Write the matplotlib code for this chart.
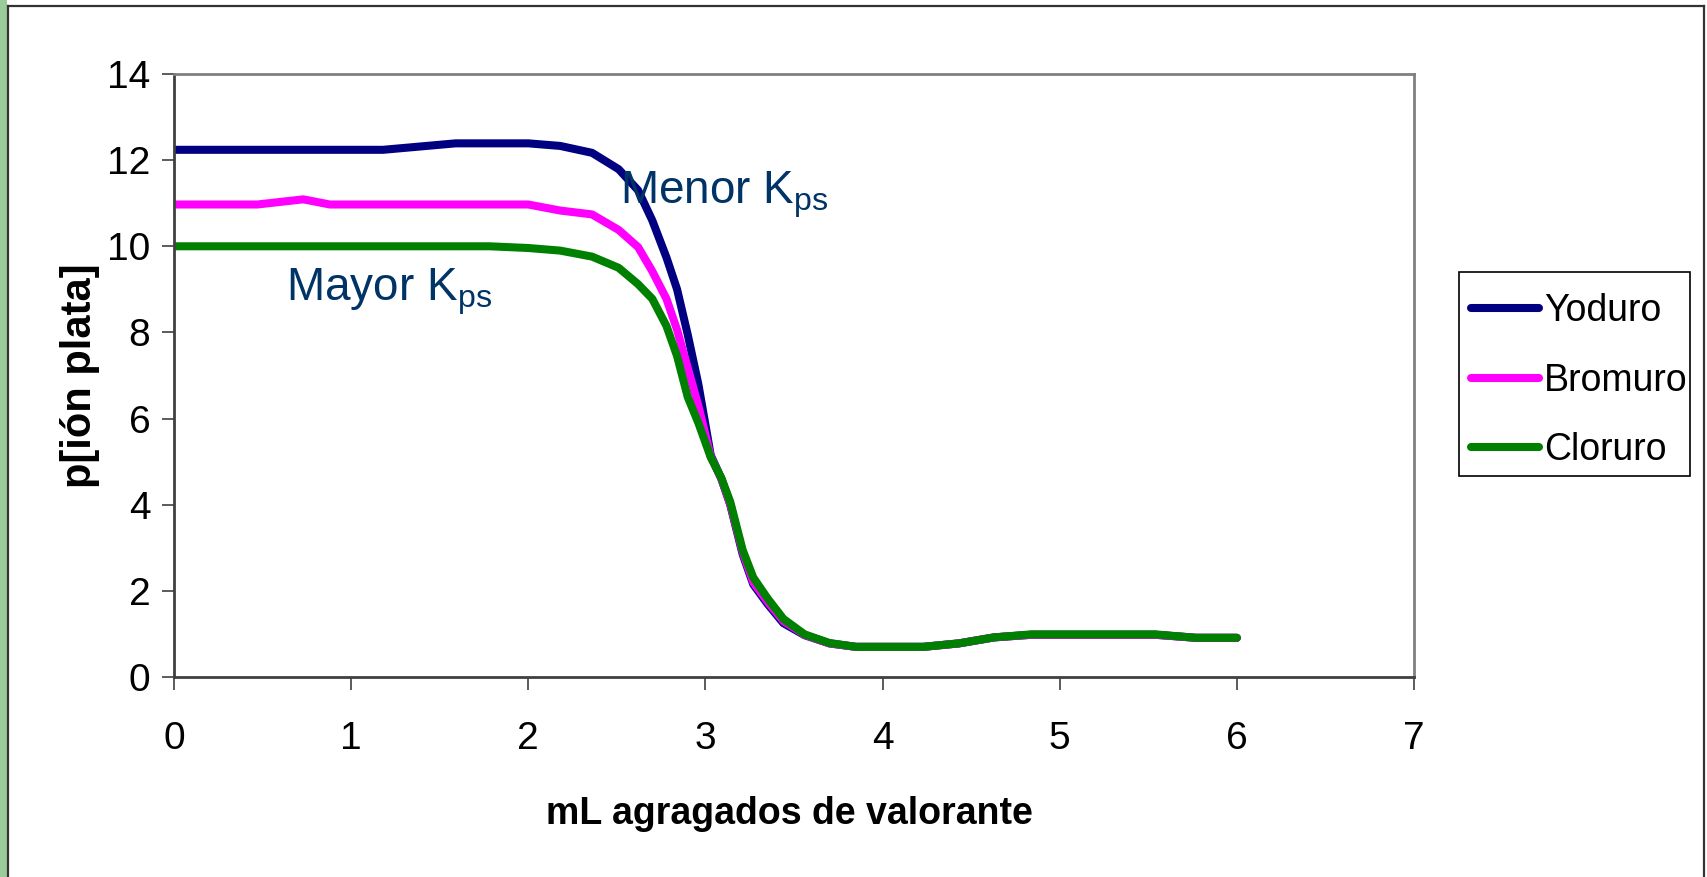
import matplotlib
matplotlib.use("Agg")
import matplotlib.pyplot as plt
from matplotlib.lines import Line2D
from matplotlib.patches import Rectangle

plt.rcParams['font.family'] = ['Liberation Sans', 'DejaVu Sans']
plt.rcParams['mathtext.fontset'] = 'custom'
plt.rcParams['mathtext.rm'] = 'Liberation Sans'
plt.rcParams['mathtext.it'] = 'Liberation Sans:italic'

# ---- data ----
x_ml = [0, 0.47, 0.73, 0.88, 1.0, 1.18, 1.59, 1.78, 2.0, 2.18, 2.36, 2.51, 2.62,
        2.70, 2.78, 2.84, 2.90, 2.96, 3.03, 3.09, 3.14, 3.21, 3.27, 3.35, 3.44,
        3.56, 3.70, 3.85, 4.23, 4.43, 4.63, 4.84, 5.54, 5.77, 6.0]
yoduro = [12.24, 12.24, 12.24, 12.24, 12.24, 12.24, 12.39, 12.39, 12.39, 12.33,
          12.17, 11.79, 11.30, 10.60, 9.74, 9.00, 7.95, 6.80, 5.15, 4.60, 4.00,
          2.85, 2.15, 1.70, 1.25, 0.97, 0.78, 0.70, 0.70, 0.78, 0.92, 0.98, 0.98,
          0.91, 0.91]
bromuro = [10.97, 10.97, 11.09, 10.97, 10.97, 10.97, 10.97, 10.97, 10.97, 10.83,
           10.74, 10.38, 9.98, 9.42, 8.78, 8.06, 7.18, 6.30, 5.12, 4.60, 4.02,
           2.90, 2.20, 1.75, 1.30, 0.98, 0.78, 0.70, 0.70, 0.78, 0.92, 0.98, 0.98,
           0.91, 0.91]
cloruro = [10.0, 10.0, 10.0, 10.0, 10.0, 10.0, 10.0, 10.0, 9.96, 9.90, 9.76,
           9.50, 9.12, 8.78, 8.15, 7.45, 6.50, 5.90, 5.10, 4.62, 4.07, 2.95, 2.31,
           1.83, 1.35, 0.99, 0.79, 0.70, 0.70, 0.78, 0.92, 0.99, 0.99, 0.91, 0.91]
series_names = ['Yoduro', 'Bromuro', 'Cloruro']
series_colors = ['#000080', '#FF00FF', '#008000']
x_ticks = [0, 1, 2, 3, 4, 5, 6, 7]
y_ticks = [0, 2, 4, 6, 8, 10, 12, 14]

W, H = 1707, 877
fig = plt.figure(figsize=(W / 100, H / 100), dpi=100)
fig.patch.set_facecolor('white')

# outer frame
fig.patches.append(Rectangle((0, 0), 7 / W, 1, transform=fig.transFigure,
                             facecolor='#99CC99', edgecolor='none', zorder=0))
frame_c = '#333333'
fig.lines.append(Line2D([7.5 / W, 7.5 / W], [0, 1 - 6 / H], transform=fig.transFigure,
                        color=frame_c, lw=1.6))
fig.lines.append(Line2D([7.5 / W, 1704 / W], [1 - 6 / H, 1 - 6 / H], transform=fig.transFigure,
                        color=frame_c, lw=1.6))
fig.lines.append(Line2D([1704 / W, 1704 / W], [0, 1 - 6 / H], transform=fig.transFigure,
                        color=frame_c, lw=1.6))

ax = fig.add_axes([174 / W, 1 - 677 / H, 1240 / W, 603 / H])
data = [yoduro, bromuro, cloruro]
for vals, name, col in zip(data, series_names, series_colors):
    ax.plot(x_ml, vals, color=col, lw=5.8, label=name, solid_capstyle='round',
            solid_joinstyle='round')

ax.set_xlim(0, 7)
ax.set_ylim(0, 14)
ax.set_xticks(x_ticks)
ax.set_yticks(y_ticks)
ax.tick_params(axis='both', direction='out', length=9, width=1.2, color='#404040',
               labelsize=28)
ax.tick_params(axis='x', pad=23)
ax.tick_params(axis='y', pad=8)
for s in ['left', 'bottom']:
    ax.spines[s].set_color('#404040')
    ax.spines[s].set_linewidth(2.0)
for s in ['top', 'right']:
    ax.spines[s].set_color('#808080')
    ax.spines[s].set_linewidth(2.0)

ax.set_xlabel('mL agragados de valorante', fontsize=27, fontweight='bold')
ax.xaxis.set_label_coords(0.496, -0.198)
ax.set_ylabel('p[ión plata]', fontsize=30, fontweight='bold')
ax.yaxis.set_label_coords(-0.06, 0.5)

ann_c = '#003366'
ax.text(0.63, 8.75, r'Mayor K$_{\mathrm{ps}}$', fontsize=33, color=ann_c,
        ha='left', va='baseline')
ax.text(2.52, 11.0, r'Menor K$_{\mathrm{ps}}$', fontsize=33, color=ann_c,
        ha='left', va='baseline')

# legend frame drawn explicitly (transparent fill so entries stay visible)
fig.patches.append(Rectangle((1459 / W, 1 - 476 / H), 231 / W, 204 / H,
                             transform=fig.transFigure, facecolor='none',
                             edgecolor='black', lw=1.2, zorder=1))
leg = ax.legend(loc='upper left', bbox_to_anchor=(1471 / W, 1 - 293 / H),
                bbox_transform=fig.transFigure, borderaxespad=0, fontsize=27,
                frameon=False, handlelength=1.8, handletextpad=0.15,
                labelspacing=0.9, borderpad=0)

fig.savefig('out.png', dpi=100)
